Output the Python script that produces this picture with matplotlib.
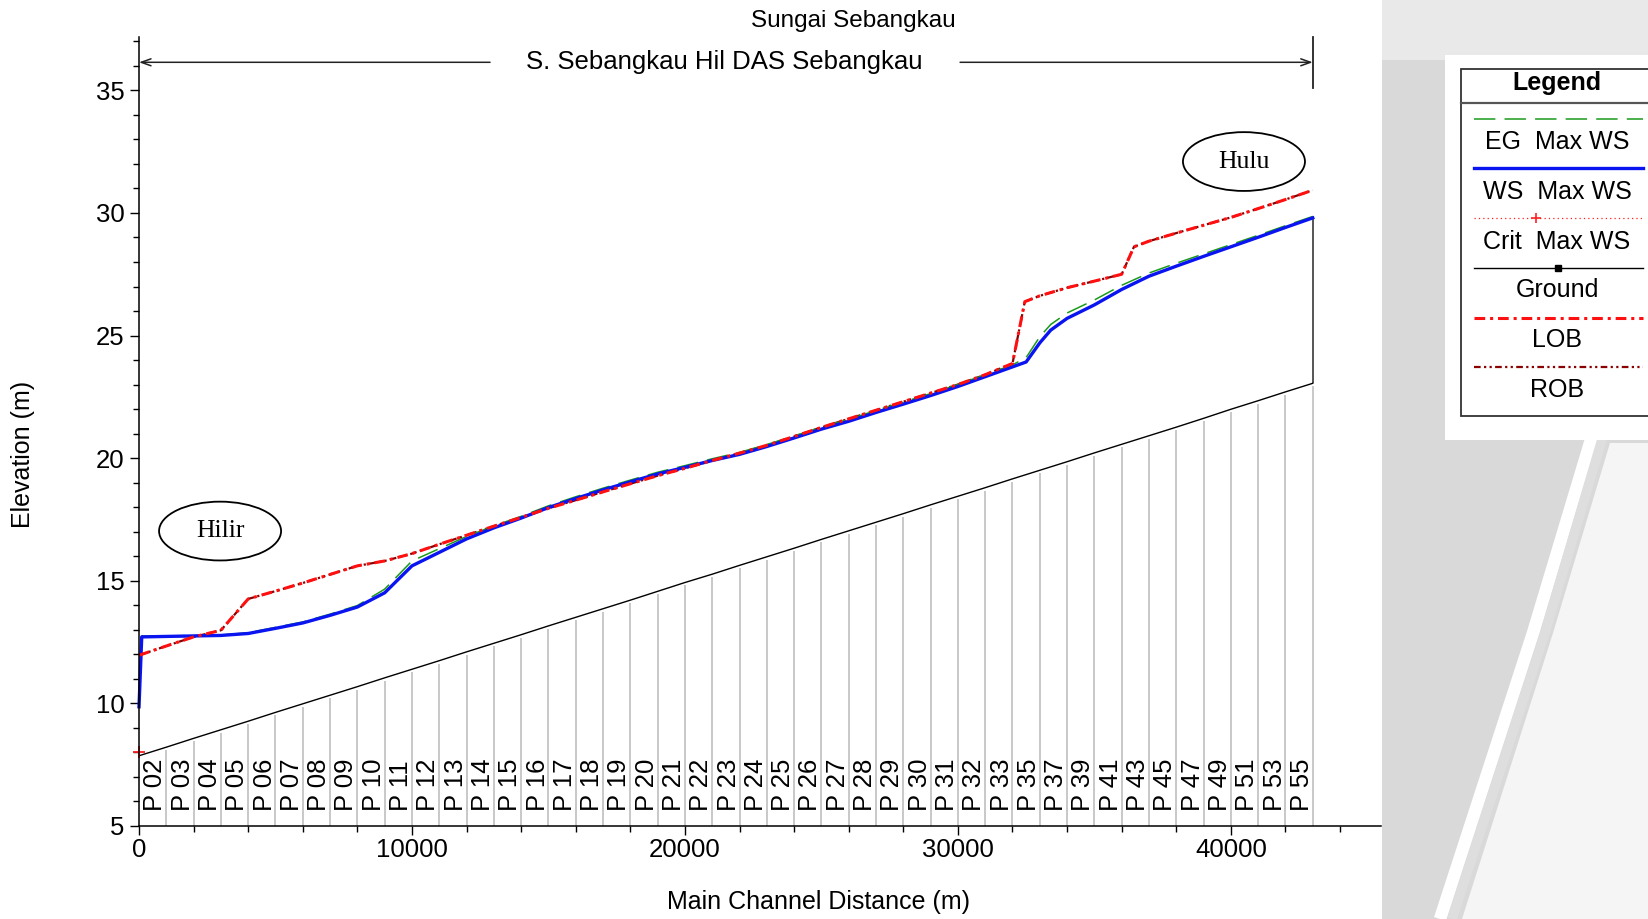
import matplotlib
matplotlib.use("Agg")
import matplotlib.pyplot as plt
from matplotlib.patches import Ellipse, Rectangle, Polygon
from matplotlib.ticker import MultipleLocator

plt.rcParams['font.family'] = ['Liberation Sans', 'DejaVu Sans']

# cross sections along the main channel (m) and their names
stations = [0, 1000, 2000, 3000, 4000, 5000, 6000, 7000, 8000, 9000, 10000,
            11000, 12000, 13000, 14000, 15000, 16000, 17000, 18000, 19000, 20000,
            21000, 22000, 23000, 24000, 25000, 26000, 27000, 28000, 29000, 30000,
            31000, 32000, 33000, 34000, 35000, 36000, 37000, 38000, 39000, 40000,
            41000, 42000, 43000]
station_names = ["", "P 02", "P 03", "P 04", "P 05", "P 06", "P 07", "P 08", "P 09",
                 "P 10", "P 11", "P 12", "P 13", "P 14", "P 15", "P 16", "P 17",
                 "P 18", "P 19", "P 20", "P 21", "P 22", "P 23", "P 24", "P 25",
                 "P 26", "P 27", "P 28", "P 29", "P 30", "P 31", "P 32", "P 33",
                 "P 35", "P 37", "P 39", "P 41", "P 43", "P 45", "P 47", "P 49",
                 "P 51", "P 53", "P 55"]
ground = [7.85, 8.20, 8.56, 8.91, 9.26, 9.62, 9.97, 10.32, 10.67, 11.03, 11.38,
          11.73, 12.09, 12.44, 12.79, 13.15, 13.50, 13.85, 14.20, 14.56, 14.92,
          15.26, 15.62, 15.97, 16.32, 16.68, 17.03, 17.38, 17.73, 18.09, 18.44,
          18.79, 19.15, 19.50, 19.85, 20.21, 20.56, 20.91, 21.26, 21.62, 21.99,
          22.34, 22.70, 23.05]

# water surface / energy grade profiles
prof_dist = [0, 100, 1000, 2000, 3000, 4000, 5000, 6000, 7000, 8000, 9000, 10000,
             11000, 12000, 13000, 14000, 15000, 16000, 17000, 18000, 19000, 20000,
             21000, 22000, 23000, 24000, 25000, 26000, 27000, 28000, 29000, 30000,
             31000, 32000, 32500, 33000, 33400, 34000, 35000, 36000, 37000, 38000,
             39000, 40000, 41000, 42000, 43000]
ws_max = [9.85, 12.70, 12.72, 12.74, 12.76, 12.84, 13.05, 13.27, 13.58, 13.92, 14.50,
          15.60, 16.15, 16.70, 17.15, 17.55, 17.98, 18.35, 18.70, 19.03, 19.35, 19.62,
          19.90, 20.15, 20.47, 20.82, 21.18, 21.50, 21.86, 22.20, 22.55, 22.92, 23.32,
          23.72, 23.92, 24.70, 25.22, 25.70, 26.25, 26.88, 27.42, 27.83, 28.23, 28.62,
          29.01, 29.41, 29.80]
eg_max = [9.90, 12.74, 12.74, 12.76, 12.78, 12.87, 13.09, 13.31, 13.63, 13.98, 14.65,
          15.80, 16.30, 16.80, 17.23, 17.62, 18.05, 18.42, 18.77, 19.10, 19.42, 19.69,
          19.97, 20.23, 20.55, 20.90, 21.26, 21.58, 21.94, 22.28, 22.63, 23.00, 23.40,
          23.80, 24.10, 24.95, 25.45, 25.92, 26.45, 27.05, 27.55, 27.95, 28.33, 28.71,
          29.09, 29.48, 29.86]
crit_dist = [0]
crit_max = [8.0]

# bank stations
bank_dist = [0, 1000, 2000, 3000, 4000, 5000, 6000, 7000, 8000, 9000, 10000,
             11000, 12000, 13000, 14000, 15000, 16000, 17000, 18000, 19000, 20000,
             21000, 22000, 23000, 24000, 25000, 26000, 27000, 28000, 29000, 30000,
             31000, 32000, 32450, 33000, 34000, 35000, 36000, 36450, 37000, 38000,
             39000, 40000, 41000, 42000, 43000]
lob = [11.95, 12.33, 12.70, 12.97, 14.25, 14.57, 14.90, 15.25, 15.60, 15.80, 16.10,
       16.48, 16.85, 17.22, 17.58, 17.95, 18.28, 18.62, 18.95, 19.28, 19.58,
       19.90, 20.20, 20.52, 20.88, 21.25, 21.60, 21.95, 22.30, 22.65, 23.00,
       23.40, 23.86, 26.38, 26.62, 26.95, 27.22, 27.50, 28.62, 28.85, 29.18,
       29.50, 29.82, 30.18, 30.55, 30.93]
rob = list(lob)

styles = {
    'EG  Max WS': dict(color='#1a9a1a', lw=1.1, ls=(0, (14, 6))),
    'WS  Max WS': dict(color='#0a14f0', lw=2.4, ls='-'),
    'Crit  Max WS': dict(color='#ff2020', lw=0.9, ls=(0, (1, 2.5))),
    'Ground': dict(color='black', lw=1.0, ls='-'),
    'LOB': dict(color='#ff1010', lw=2.2, ls=(0, (3.5, 1.6, 1, 1.6))),
    'ROB': dict(color='#8b0000', lw=1.6, ls=(0, (3, 1.5, 1, 1.5, 1, 1.5))),
}

W, H = 1649, 919
fig = plt.figure(figsize=(W / 100, H / 100), dpi=100)

# page layer in pixel coordinates (background, labels, legend box)
bg = fig.add_axes([0, 0, 1, 1])
bg.set_xlim(0, W)
bg.set_ylim(H, 0)
bg.axis('off')
bg.set_zorder(-1)

bg.add_patch(Rectangle((1382, 0), W - 1382, H, fc='#d9d9d9', ec='none', zorder=1))
bg.add_patch(Rectangle((1382, 0), W - 1382, 60, fc='#e9e9e9', ec='none', zorder=1))
bg.add_patch(Polygon([(1462, 919), (1553, 633), (1610, 443), (W, 443), (W, 919)],
                     closed=True, fc='#f5f5f5', ec='none', zorder=1))
bg.plot([1440, 1533, 1590, 1606], [919, 633, 443, 390], color='white', lw=9,
        solid_capstyle='butt', zorder=2)
bg.plot([1452, 1545, 1601, 1616], [919, 633, 443, 390], color='#dedede', lw=7,
        solid_capstyle='butt', zorder=2)
bg.add_patch(Rectangle((1445, 55), W - 1445, 385, fc='white', ec='none', zorder=3))

# legend
bg.add_patch(Rectangle((1461, 69), 200, 347, fc='white', ec='#333333', lw=1.3,
                       zorder=4))
bg.plot([1461, W], [103, 103], color='#555555', lw=1.6, zorder=5)
bg.text(1557, 83, "Legend", fontsize=18, fontweight='bold', ha='center', va='center',
        zorder=5)
leg_line_y = [119, 168, 218, 268, 318, 367]
leg_text_y = [142, 192, 242, 290, 340, 390]
for name, ly, ty in zip(styles, leg_line_y, leg_text_y):
    bg.plot([1474, 1643], [ly, ly], **styles[name], zorder=5)
    bg.text(1557, ty, name, fontsize=18, ha='center', va='center', zorder=5)
bg.plot([1536], [218], marker='+', color='#ff2020', ms=7, mew=1.2, zorder=6)
bg.plot([1558], [268], marker='s', color='black', ms=4, zorder=6)

# titles and axis labels
bg.text(853, 21, "Sungai Sebangkau", fontsize=17.5, ha='center', va='center')
bg.text(819, 902, "Main Channel Distance (m)", fontsize=18, ha='center', va='center')
bg.text(23, 454, "Elevation (m)", fontsize=18, rotation=90, ha='center', va='center')

# profile plot
ax = fig.add_axes([139 / W, 1 - 825.6 / H, (1381 - 139) / W, (825.6 - 37.3) / H])
ax.set_facecolor('none')
ax.set_xlim(0, 45500)
ax.set_ylim(5, 37.17)
for side in ('top', 'right'):
    ax.spines[side].set_visible(False)
for side in ('left', 'bottom'):
    ax.spines[side].set_linewidth(1.1)
ax.xaxis.set_major_locator(MultipleLocator(10000))
ax.xaxis.set_minor_locator(MultipleLocator(2000))
ax.yaxis.set_major_locator(MultipleLocator(5))
ax.yaxis.set_minor_locator(MultipleLocator(1))
ax.tick_params(which='major', length=6.5, width=1.0, labelsize=18.5)
ax.tick_params(which='minor', length=4.3, width=1.0)
ax.tick_params(axis='y', which='major', pad=4)
ax.tick_params(axis='x', which='major', pad=2.5)

# cross-section stick lines and names
ax.vlines(stations[1:], 5, [g - 0.12 for g in ground[1:]], color='#c8c8c8', lw=1.4)
for x, name in zip(stations, station_names):
    if name:
        ax.text(x - 400, 5.6, name, rotation=90, fontsize=18.5, ha='center', va='bottom')
ax.vlines(stations[-1], ground[-1], ws_max[-1], color='#555555', lw=1.4)

ax.plot(stations, ground, **styles['Ground'])
ax.plot(bank_dist, rob, **styles['ROB'])
ax.plot(prof_dist, eg_max, **styles['EG  Max WS'])
ax.plot(prof_dist, ws_max, **styles['WS  Max WS'], clip_on=False)
ax.plot(bank_dist, lob, **styles['LOB'], clip_on=False)
ax.plot(crit_dist, crit_max, ls='none', marker='+', color='#ff2020', ms=8, mew=1.3,
        clip_on=False)

# reach bracket
y_arrow = 36.15
arrow_kw = dict(arrowstyle='->,head_length=0.7,head_width=0.25', color='#222222',
                lw=1.1, shrinkA=0, shrinkB=0)
ax.annotate('', xy=(0, y_arrow), xytext=(12860, y_arrow), arrowprops=arrow_kw,
            annotation_clip=False)
ax.annotate('', xy=(43000, y_arrow), xytext=(30080, y_arrow), arrowprops=arrow_kw,
            annotation_clip=False)
ax.plot([43000, 43000], [35.1, 37.17], color='#222222', lw=1.3, clip_on=False)
ax.text(21450, y_arrow, "S. Sebangkau Hil DAS Sebangkau", fontsize=18.5,
        ha='center', va='center')

# reach end markers
for (cx, cy), label in [((2970, 17.02), "Hilir"), ((40480, 32.1), "Hulu")]:
    ax.add_patch(Ellipse((cx, cy), 4470, 2.4, fc='white', ec='black', lw=1.3))
    ax.text(cx, cy, label, fontsize=18.5, family='Liberation Serif',
            ha='center', va='center')

fig.savefig("out.png", dpi=100)
